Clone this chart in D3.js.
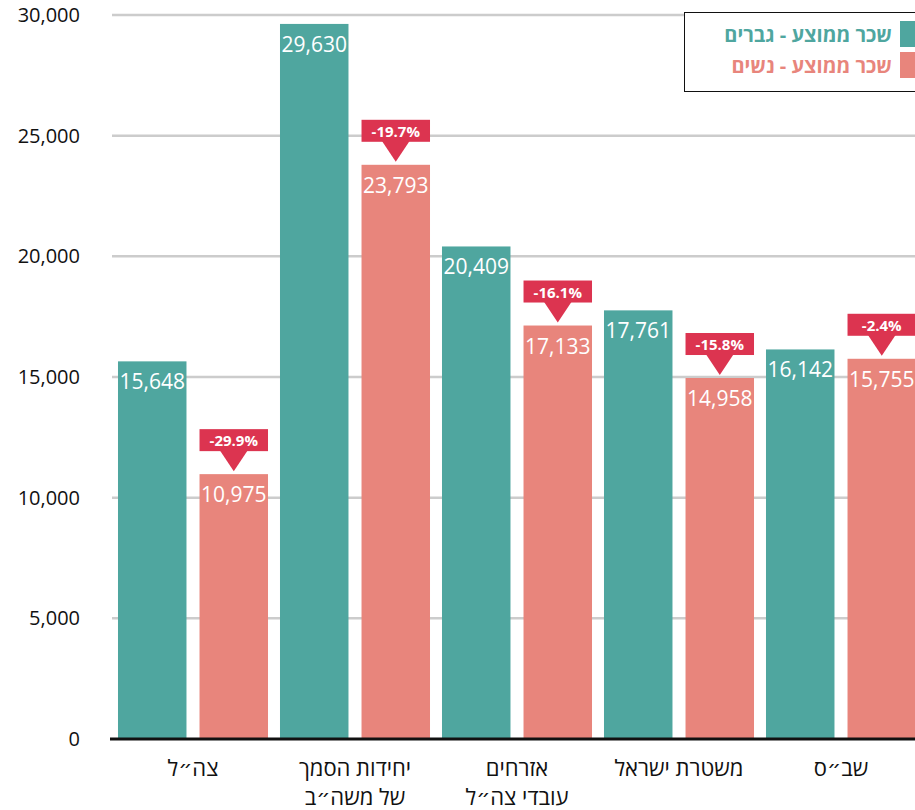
<!DOCTYPE html>
<html>
<head>
<meta charset="utf-8">
<script src="https://cdn.jsdelivr.net/npm/d3@7"></script>
<style>
  body { margin: 0; background: #fff; }
  svg { display: block; font-family: "Open Sans", "DejaVu Sans", sans-serif; }
</style>
</head>
<body>
<div id="chart"></div>
<script>
"use strict";

// data
const categories = ["צה״ל", "יחידות הסמך|של משה״ב", "אזרחים|עובדי צה״ל", "משטרת ישראל", "שב״ס"];
const menWage = [15648, 29630, 20409, 17761, 16142];
const womenWage = [10975, 23793, 17133, 14958, 15755];
const gapLabels = ["-29.9%", "-19.7%", "-16.1%", "-15.8%", "-2.4%"];
const seriesNames = ["שכר ממוצע - גברים", "שכר ממוצע - נשים"];
const yTicks = [0, 5000, 10000, 15000, 20000, 25000, 30000];

const colors = ["#4fa69f", "#e8857c"];
const calloutColor = "#dc3450";

const width = 915, height = 810;
const margin = {top: 15, right: -7, bottom: 71, left: 112};

const svg = d3.select("#chart").append("svg")
    .attr("width", width)
    .attr("height", height);

// scales
const x0 = d3.scaleBand()
    .domain(d3.range(categories.length))
    .range([margin.left, width - margin.right])
    .paddingInner(0.074)
    .paddingOuter(0.037);

const x1 = d3.scaleBand()
    .domain([0, 1])
    .range([0, x0.bandwidth()])
    .paddingInner(0.16);

const y = d3.scaleLinear()
    .domain([0, 30000])
    .range([height - margin.bottom, margin.top]);

// gridlines
svg.append("g")
    .selectAll("line")
    .data(yTicks.filter(d => d > 0))
    .enter().append("line")
    .attr("x1", margin.left)
    .attr("x2", width)
    .attr("y1", d => y(d))
    .attr("y2", d => y(d))
    .attr("stroke", "#cccccc")
    .attr("stroke-width", 2.5);

// y axis labels
const yAxis = d3.axisLeft(y)
    .tickValues(yTicks)
    .tickFormat(d3.format(","))
    .tickSize(0)
    .tickPadding(0);
const yg = svg.append("g")
    .attr("transform", "translate(80,0)")
    .call(yAxis);
yg.select(".domain").remove();
yg.selectAll("text")
    .attr("font-size", 20)
    .attr("font-family", "Open Sans, DejaVu Sans, sans-serif")
    .attr("fill", "#111");

// bars
const groups = svg.append("g")
    .selectAll("g")
    .data(categories.map((c, i) => ({i: i, values: [menWage[i], womenWage[i]]})))
    .enter().append("g")
    .attr("transform", d => "translate(" + x0(d.i) + ",0)");

groups.selectAll("rect")
    .data(d => d.values.map((v, k) => ({k: k, v: v})))
    .enter().append("rect")
    .attr("x", d => x1(d.k))
    .attr("y", d => y(d.v))
    .attr("width", x1.bandwidth())
    .attr("height", d => y(0) - y(d.v))
    .attr("fill", d => colors[d.k]);

// value labels inside bars
groups.selectAll("text.val")
    .data(d => d.values.map((v, k) => ({k: k, v: v})))
    .enter().append("text")
    .attr("class", "val")
    .attr("x", d => x1(d.k) + x1.bandwidth() / 2)
    .attr("y", d => y(d.v) + 28)
    .attr("text-anchor", "middle")
    .attr("font-size", 21)
    .attr("fill", "#fff")
    .text(d => d3.format(",")(d.v));

// gap callouts above women bars
const callout = groups.append("g")
    .attr("transform", d => "translate(" + (x1(1)) + "," + y(womenWage[d.i]) + ")");

const bw = x1.bandwidth();
callout.append("rect")
    .attr("x", 0)
    .attr("y", -45)
    .attr("width", bw)
    .attr("height", 22)
    .attr("fill", calloutColor);

callout.append("path")
    .attr("d", "M" + (bw / 2 - 14) + ",-24 L" + (bw / 2 + 14) + ",-24 L" + (bw / 2) + ",-3 Z")
    .attr("fill", calloutColor);

callout.append("text")
    .attr("x", bw / 2)
    .attr("y", -28)
    .attr("text-anchor", "middle")
    .attr("font-size", 15)
    .attr("font-weight", "bold")
    .attr("fill", "#fff")
    .text(d => gapLabels[d.i]);

// x axis line
svg.append("line")
    .attr("x1", 110)
    .attr("x2", width)
    .attr("y1", y(0))
    .attr("y2", y(0))
    .attr("stroke", "#111")
    .attr("stroke-width", 3);

// category labels
const catLabels = svg.append("g")
    .selectAll("text")
    .data(categories)
    .enter().append("text")
    .attr("x", (d, i) => x0(i) + x0.bandwidth() / 2)
    .attr("y", 776)
    .attr("text-anchor", "middle")
    .attr("font-size", 22)
    .attr("fill", "#111");

catLabels.selectAll("tspan")
    .data(d => d.split("|"))
    .enter().append("tspan")
    .attr("x", function() { return d3.select(this.parentNode).attr("x"); })
    .attr("dy", (d, i) => i === 0 ? 0 : 29)
    .text(d => d);

// legend
const legend = svg.append("g");
legend.append("rect")
    .attr("x", 684.5)
    .attr("y", 12.5)
    .attr("width", 240)
    .attr("height", 79)
    .attr("fill", "#fff")
    .attr("stroke", "#111")
    .attr("stroke-width", 1);

seriesNames.forEach((name, k) => {
    legend.append("rect")
        .attr("x", 900)
        .attr("y", 21 + k * 31)
        .attr("width", 16)
        .attr("height", 26)
        .attr("fill", colors[k]);
    legend.append("text")
        .attr("x", 892)
        .attr("y", 42 + k * 31)
        .attr("text-anchor", "end")
        .attr("font-size", 20)
        .attr("font-weight", "bold")
        .attr("fill", colors[k])
        .text(name);
});
</script>
</body>
</html>
